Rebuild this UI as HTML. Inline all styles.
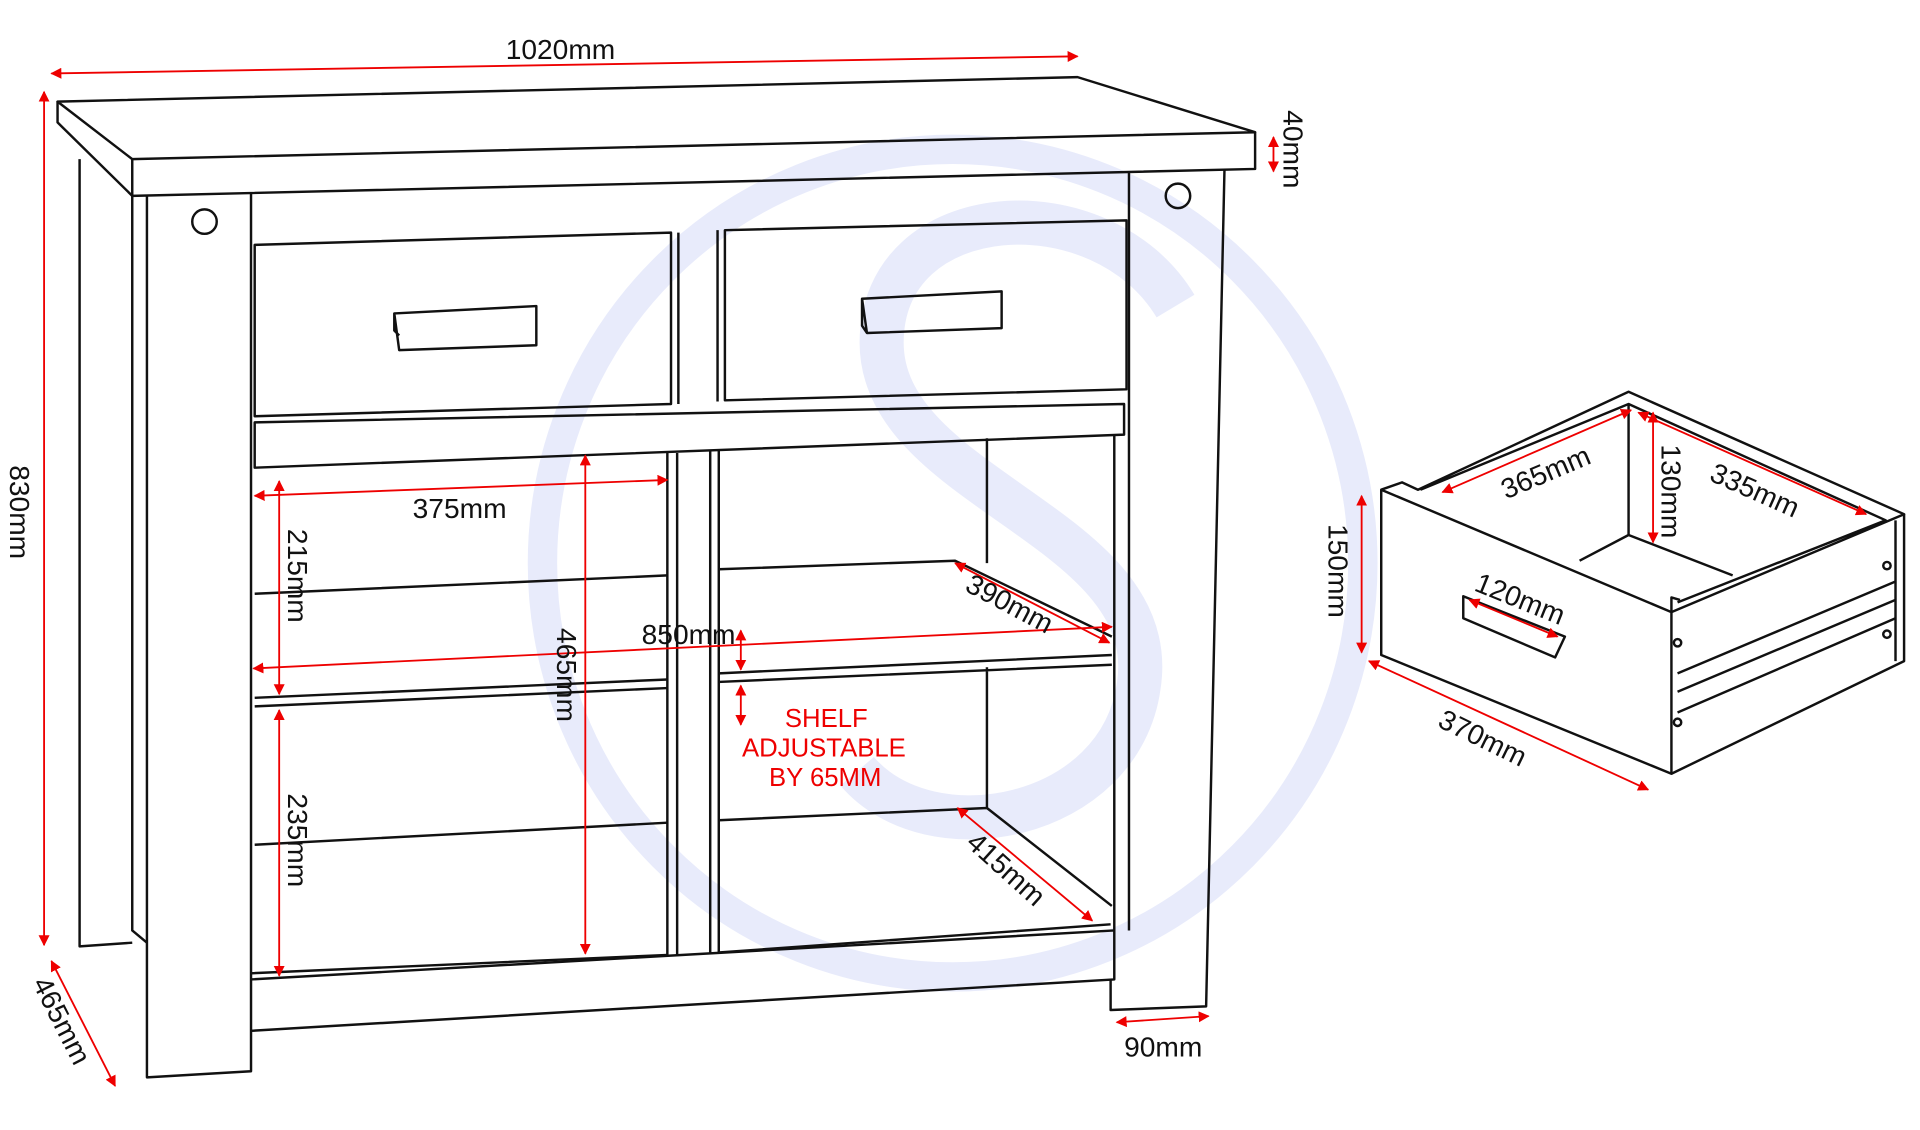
<!DOCTYPE html>
<html><head><meta charset="utf-8"><style>
html,body{margin:0;padding:0;background:#fff;width:1920px;height:1130px;overflow:hidden}
svg{display:block}
text{font-family:"Liberation Sans",sans-serif;font-size:23px;fill:#111}
.r{fill:#e00;font-size:21px}
</style></head><body>
<svg width="1920" height="1130" viewBox="0 0 1568 923" preserveAspectRatio="none">
<defs>
<marker id="a" viewBox="0 0 10 10" refX="9" refY="5" markerWidth="9" markerHeight="9" orient="auto-start-reverse" markerUnits="userSpaceOnUse"><path d="M0,0L10,5L0,10z" fill="#e00"/></marker>
</defs>
<g fill="none" stroke="#e8ebfb" stroke-width="24">
<ellipse cx="778" cy="460" rx="335" ry="338"/>
<path d="M960,250 C900,150 720,160 720,280 C720,400 950,430 930,560 C915,670 760,700 700,630" stroke-width="36"/>
</g>
<g fill="none" stroke="#111" stroke-width="2" stroke-linejoin="round">
<path d="M47,83 L880,63 L1025,108 L108,130 Z"/>
<path d="M108,130 L108,160 L1025,138 L1025,108"/>
<path d="M47,83 L47,100 L108,160"/>
<path d="M65,130 L65,773 L108,770"/>
<path d="M108,160 L108,760 L120,770"/>
<path d="M120,160 L120,880 L205,875 L205,158"/>
<circle cx="167" cy="181" r="10"/>
<path d="M922,140 L922,760 M1000,138 L985,822 L907,825 L907,800"/>
<circle cx="962" cy="160" r="10"/>
<path d="M208,200 L548,190 L548,330 L208,340 Z"/>
<path d="M554,190 L554,330 M586,188 L586,328"/>
<path d="M592,188 L920,180 L920,318 L592,327 Z"/>
<path d="M322,256 L438,250 L438,282 L326,286 Z M322,256 L322,270 L326,274"/>
<path d="M704,244 L818,238 L818,268 L708,272 Z M704,244 L704,266 L708,272"/>
<path d="M208,345 L918,330 L918,355 L208,382 Z"/>
<path d="M545,370 L545,780 M553,370 L553,780 M580,368 L580,778 M587,368 L587,778"/>
<path d="M910,355 L910,760"/>
<path d="M208,485 L545,470 M208,570 L545,555 M208,577 L545,562 M208,690 L545,672"/>
<path d="M587,465 L780,458 L908,520 M587,550 L908,535 M587,557 L908,543 M806,358 L806,460 M806,545 L806,660 M587,670 L806,660 L908,740"/>
<path d="M205,800 L910,760 M205,842 L910,800 L910,760"/>
<path d="M545,780 L205,795 M587,778 L907,755"/>
<path d="M1128,400 L1365,500 L1365,632 L1128,535 Z"/>
<path d="M1128,400 L1145,394 L1158,400 L1330,320 L1555,420 L1365,500 M1160,400 L1330,330 L1330,437 M1330,330 L1540,425 L1370,492"/>
<path d="M1365,500 L1365,488 L1372,490 M1365,632 L1555,540 L1555,420 M1548,425 L1548,540"/>
<path d="M1370,550 L1548,475 M1370,565 L1548,490 M1370,582 L1548,505"/>
<path d="M1290,458 L1330,437 L1415,470"/>
<path d="M1195,487 L1278,520 L1270,537 L1195,505 Z"/>
<circle cx="1370" cy="525" r="3"/><circle cx="1370" cy="590" r="3"/><circle cx="1541" cy="462" r="3"/><circle cx="1541" cy="518" r="3"/>
</g>
<g stroke="#e00" stroke-width="1.5" fill="none" marker-start="url(#a)" marker-end="url(#a)">
<line x1="42" y1="60" x2="880" y2="46"/>
<line x1="36" y1="75" x2="36" y2="772"/>
<line x1="42" y1="785" x2="94" y2="887"/>
<line x1="1040" y1="112" x2="1040" y2="140"/>
<line x1="912" y1="835" x2="987" y2="830"/>
<line x1="208" y1="405" x2="545" y2="392"/>
<line x1="228" y1="393" x2="228" y2="567"/>
<line x1="228" y1="580" x2="228" y2="797"/>
<line x1="478" y1="372" x2="478" y2="779"/>
<line x1="207" y1="546" x2="908" y2="512"/>
<line x1="780" y1="460" x2="906" y2="525"/>
<line x1="782" y1="660" x2="892" y2="752"/>
<line x1="605" y1="515" x2="605" y2="547"/>
<line x1="605" y1="560" x2="605" y2="592"/>
<line x1="1112" y1="405" x2="1112" y2="533"/>
<line x1="1118" y1="540" x2="1346" y2="645"/>
<line x1="1178" y1="402" x2="1332" y2="335"/>
<line x1="1350" y1="337" x2="1350" y2="443"/>
<line x1="1338" y1="337" x2="1524" y2="420"/>
<line x1="1200" y1="490" x2="1272" y2="520"/>
</g>
<text x="413" y="48">1020mm</text>
<text x="337" y="423">375mm</text>
<text x="524" y="526">850mm</text>
<text x="918" y="863">90mm</text>
<text class="r" x="641" y="594">SHELF</text>
<text class="r" x="606" y="618">ADJUSTABLE</text>
<text class="r" x="628" y="642">BY 65MM</text>
<text transform="translate(8,380) rotate(90)">830mm</text>
<text transform="translate(1048,90) rotate(90)">40mm</text>
<text transform="translate(235,432) rotate(90)">215mm</text>
<text transform="translate(235,648) rotate(90)">235mm</text>
<text transform="translate(455,513) rotate(90)">465mm</text>
<text transform="translate(1085,428) rotate(90)">150mm</text>
<text transform="translate(1357,363) rotate(90)">130mm</text>
<text transform="translate(26,803) rotate(63)">465mm</text>
<text transform="translate(787,482) rotate(28)">390mm</text>
<text transform="translate(788,690) rotate(42)">415mm</text>
<text transform="translate(1173,593) rotate(26)">370mm</text>
<text transform="translate(1230,408) rotate(-23)">365mm</text>
<text transform="translate(1395,392) rotate(24)">335mm</text>
<text transform="translate(1203,482) rotate(22)">120mm</text>
</svg>
</body></html>
